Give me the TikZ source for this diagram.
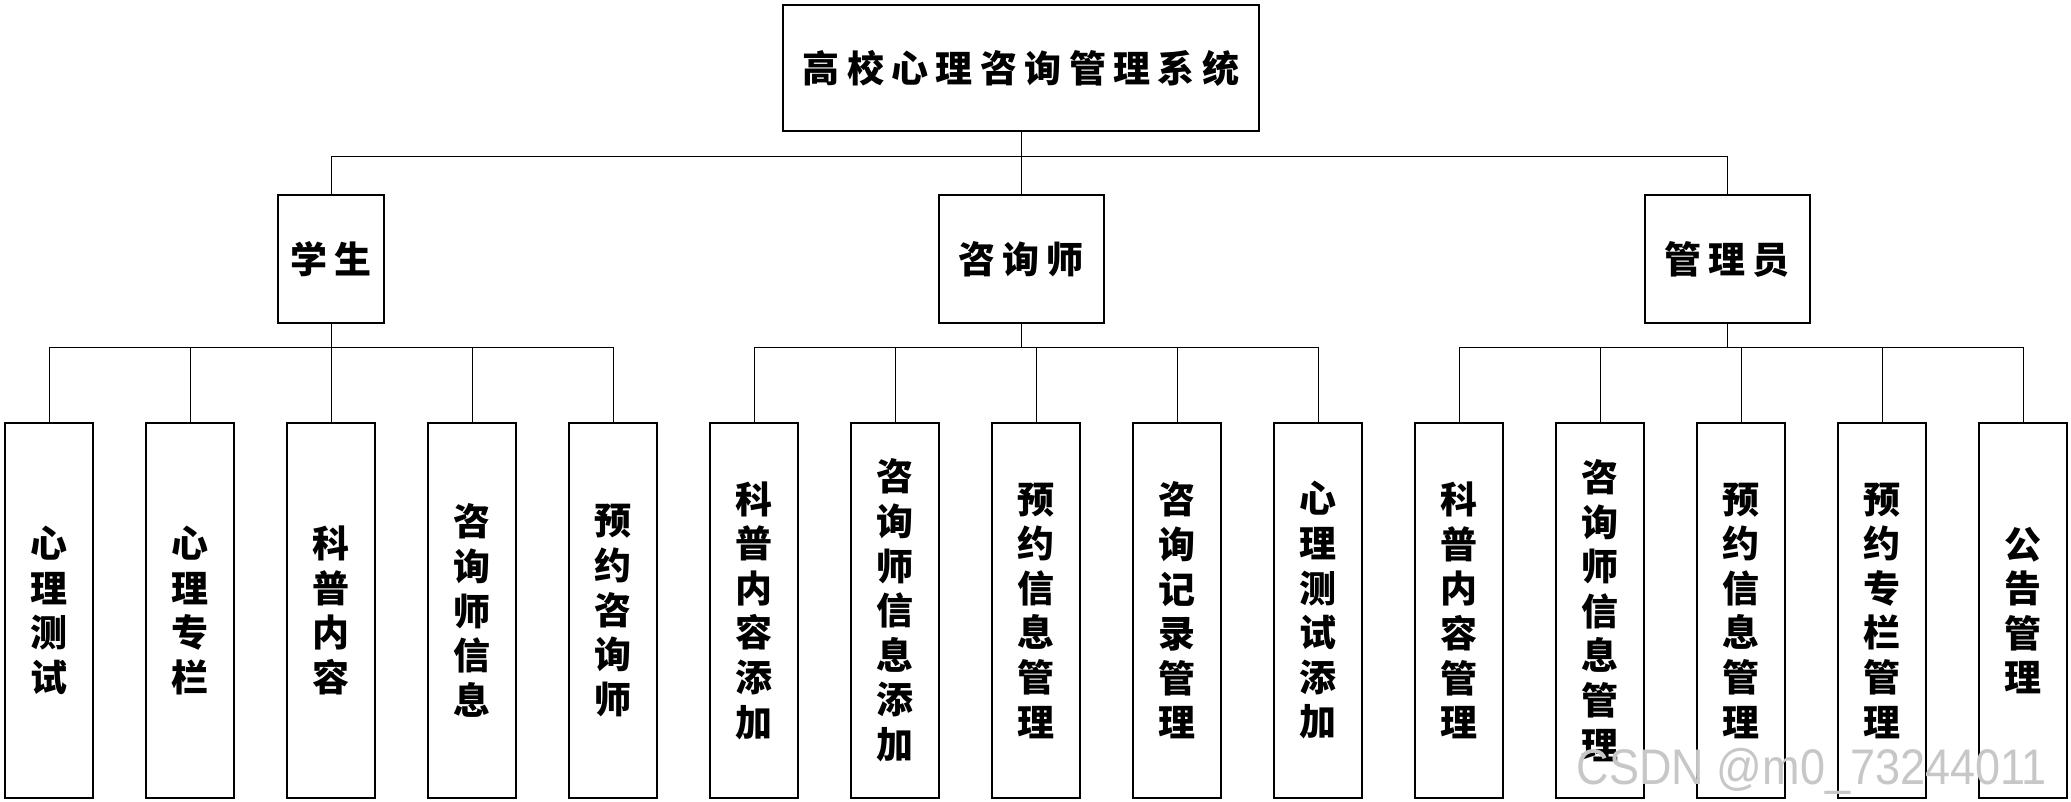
\documentclass[tikz,border=0pt]{standalone}
\usepackage{fontspec}
\newfontfamily\cjk{Noto Sans CJK SC}
\newfontfamily\cjkw{Noto Sans CJK SC}[LetterSpace=20]
\setmainfont{Liberation Sans}
\tikzset{
  box/.style={draw=black, line width=1pt, inner sep=0pt, fill=white},
  topbox/.style={box, minimum width=238pt, minimum height=63pt, font={\cjkw\bfseries\fontsize{18.5pt}{22pt}\selectfont}},
  midbox/.style={box, minimum height=64pt, font={\cjkw\bfseries\fontsize{18.5pt}{22pt}\selectfont}},
  leafbox/.style={box, minimum width=44pt, minimum height=187.5pt, align=center, font={\cjk\bfseries\fontsize{18.5pt}{22.3pt}\selectfont}},
  link/.style={draw=black, line width=0.5pt},
  mark/.style={}
}
\begin{document}
\begin{tikzpicture}[x=0.5pt,y=-0.5pt]
\useasboundingbox (0,0) rectangle (2071,802);
% connectors (drawn first)
\coordinate (b0) at (1021,157);
\coordinate (bs) at (331,347);
\coordinate (bc) at (1021,347);
\coordinate (ba) at (1727,347);
% nodes
\node[topbox] (top) at (1021,68) {高校心理咨询管理系统};
\node[midbox, minimum width=53pt] (stu) at (331,259) {学生};
\node[midbox, minimum width=82.5pt] (cou) at (1021,259) {咨询师};
\node[midbox, minimum width=82.5pt] (adm) at (1727,259) {管理员};
\node[leafbox] (l1) at (49,610.5) {心\\理\\测\\试};
\node[leafbox] (l2) at (190,610.5) {心\\理\\专\\栏};
\node[leafbox] (l3) at (331,610.5) {科\\普\\内\\容};
\node[leafbox] (l4) at (472,610.5) {咨\\询\\师\\信\\息};
\node[leafbox] (l5) at (613,610.5) {预\\约\\咨\\询\\师};
\node[leafbox] (l6) at (754,610.5) {科\\普\\内\\容\\添\\加};
\node[leafbox] (l7) at (895,610.5) {咨\\询\\师\\信\\息\\添\\加};
\node[leafbox] (l8) at (1036,610.5) {预\\约\\信\\息\\管\\理};
\node[leafbox] (l9) at (1177,610.5) {咨\\询\\记\\录\\管\\理};
\node[leafbox] (l10) at (1318,610.5) {心\\理\\测\\试\\添\\加};
\node[leafbox] (l11) at (1459,610.5) {科\\普\\内\\容\\管\\理};
\node[leafbox] (l12) at (1600,610.5) {咨\\询\\师\\信\\息\\管\\理};
\node[leafbox] (l13) at (1741,610.5) {预\\约\\信\\息\\管\\理};
\node[leafbox] (l14) at (1882,610.5) {预\\约\\专\\栏\\管\\理};
\node[leafbox] (l15) at (2023,610.5) {公\\告\\管\\理};
% level 1 links
\draw[link] (top.south) -- (b0);
\draw[link] (stu.north) |- (b0);
\draw[link] (adm.north) |- (b0);
\draw[link] (cou.north) -- (b0);
% student links
\draw[link] (stu.south) -- (bs);
\foreach \i in {1,...,5} {\draw[link] (l\i.north) |- (bs);}
% counselor links
\draw[link] (cou.south) -- (bc);
\foreach \i in {6,...,10} {\draw[link] (l\i.north) |- (bc);}
% admin links
\draw[link] (adm.south) -- (ba);
\foreach \i in {11,...,15} {\draw[link] (l\i.north) |- (ba);}
% watermark
\node[text=black!22, font={\fontsize{25pt}{28pt}\selectfont}, xscale=0.9, inner sep=0pt] (wm) at (1812,771) {CSDN @m0\_73244011};
\end{tikzpicture}
\end{document}
